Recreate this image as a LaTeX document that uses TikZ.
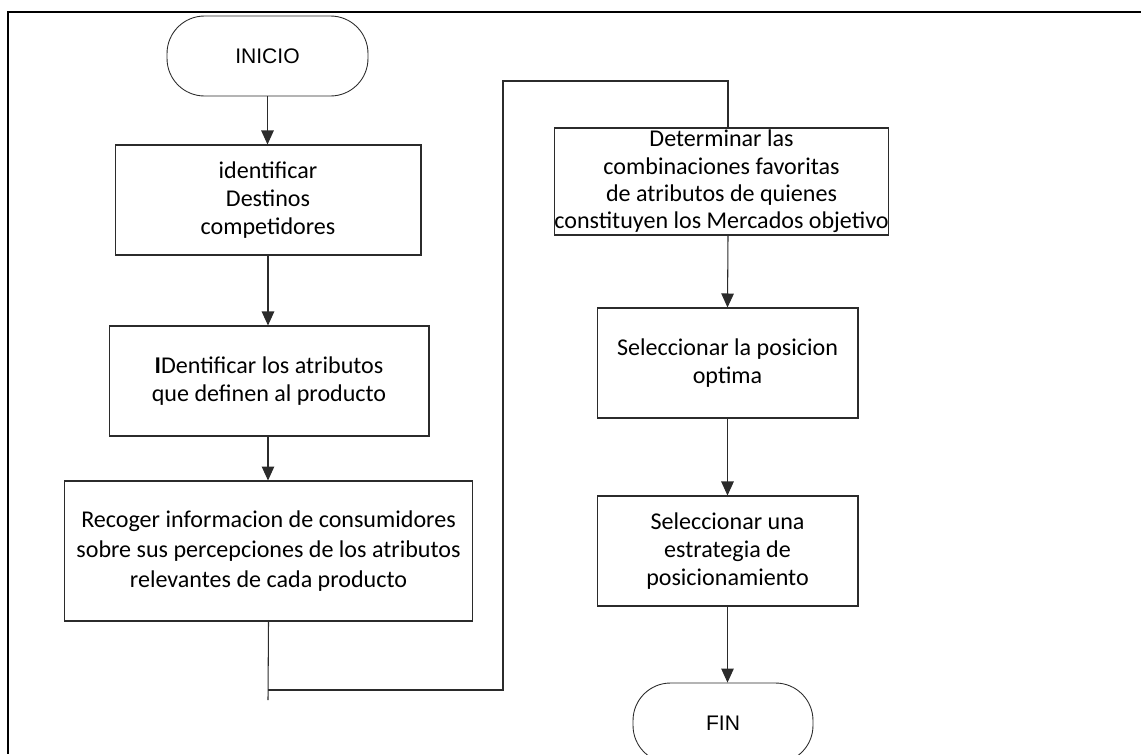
\documentclass[tikz,border=0pt]{standalone}
\usepackage{fontspec}
\setmainfont{Carlito}
\newfontfamily\arialfont{Liberation Sans}
\usetikzlibrary{arrows.meta,positioning,calc}
\definecolor{linecol}{HTML}{2b2b2b}

\begin{document}
\begin{tikzpicture}[x=0.02cm, y=-0.02cm, font=\fontsize{13.7}{16}\selectfont,
  stepbox/.style={draw=linecol, line width=0.6pt, align=center, inner sep=0pt},
  terminal/.style={draw=linecol, line width=0.5pt, rounded corners=0.75cm, inner sep=0pt, font=\arialfont\fontsize{12}{14}\selectfont},
  flow/.style={draw=linecol, line width=0.6pt, -{Triangle[width=0.25cm,length=0.28cm]}},
  link/.style={draw=linecol, line width=0.6pt}]
\useasboundingbox (0,0) rectangle (1141,754);
\draw[line width=1.2pt] (1141,12) -- (8,12) -- (8,754);

% left column
\node[terminal, minimum width=4.02cm, minimum height=1.6cm] (start) at (267.5,56) {INICIO};
\node[stepbox, minimum width=6.12cm, minimum height=2.2cm] (rivals) at (268,200) {identificar\\Destinos\\competidores};
\node[stepbox, minimum width=6.4cm, minimum height=2.2cm] (traits) at (269,381) {\textbf{I}Dentificar los atributos\\que definen al producto};
\node[stepbox, minimum width=8.18cm, minimum height=2.8cm, font=\fontsize{13.7}{17}\selectfont] (survey) at (268.5,551) {Recoger informacion de consumidores\\sobre sus percepciones de los atributos\\relevantes de cada producto};

% right column
\node[stepbox, minimum width=6.66cm, minimum height=2.14cm, font=\fontsize{13.7}{15.5}\selectfont] (combos) at (721.5,181.5) {Determinar las\\combinaciones favoritas\\de atributos de quienes\\constituyen los Mercados objetivo};
\node[stepbox, minimum width=5.22cm, minimum height=2.2cm] (optimum) at (727.5,363) {Seleccionar la posicion\\optima};
\node[stepbox, minimum width=5.22cm, minimum height=2.2cm] (strategy) at (727.5,551) {Seleccionar una\\estrategia de\\posicionamiento};
\node[terminal, minimum width=3.6cm, minimum height=1.6cm] (finish) at (723,723) {FIN};

\coordinate (tail) at (268,700);
\coordinate (loopA) at (268,690);
\coordinate (loopB) at (503,690);
\coordinate (loopC) at (503,81);
\coordinate (loopD) at (728,81);

\draw[flow] (start.south) -- (start.south |- rivals.north);
\draw[flow] (rivals.south) -- (rivals.south |- traits.north);
\draw[flow] (rivals.south |- traits.south) -- (rivals.south |- survey.north);
\draw[link] (survey.south) -- (tail);
\draw[link] (loopA) -- (loopB) -- (loopC) -- (loopD) -- (loopD |- combos.north);
\draw[flow] (loopD |- combos.south) -- (optimum.north);
\draw[flow] (optimum.south) -- (strategy.north);
\draw[flow] (strategy.south) -- (strategy.south |- finish.north);
\end{tikzpicture}
\end{document}
